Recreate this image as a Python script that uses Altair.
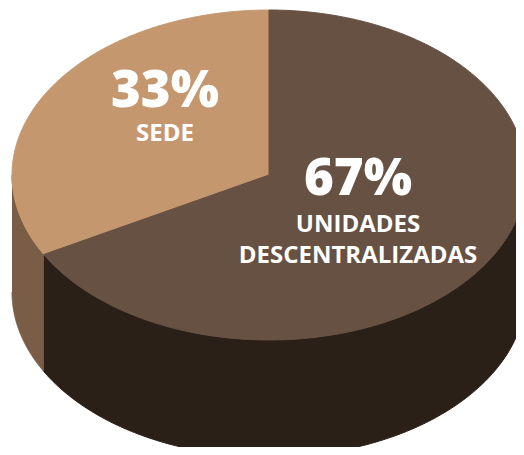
import numpy as np
import pandas as pd
import altair as alt

# ---- data ----
labels = ["SEDE", "UNIDADES DESCENTRALIZADAS"]
values = [33, 67]
pct_text = ["33%", "67%"]
name_lines = [["SEDE"], ["UNIDADES", "DESCENTRALIZADAS"]]
top_colors = ["#c5976f", "#665143"]
side_colors = ["#7a5d46", "#2b2018"]

# ---- layout (pixel geometry of the 3D pie) ----
W, H = 508, 439
CX, CY, RX, RY, DEPTH = 269, 175, 257, 165, 117
label_anchor = [(165, 107), (358, 195)]  # baseline of percentage text
first_gap = [34, 37]
line_gap = 31


def pt(theta_deg, dy=0.0):
    t = np.radians(theta_deg)
    return CX - RX * np.sin(t), CY - RY * np.cos(t) + dy


total = float(sum(values))
side_rows, top_rows = [], []
start = 0.0
for k, (lab, v) in enumerate(zip(labels, values)):
    end = start + 360.0 * v / total
    a0, a1 = max(start, 90.0), min(end, 270.0)
    if a1 > a0:
        ts = np.linspace(a0, a1, 200)
        pts = [pt(t) for t in ts] + [pt(t, DEPTH) for t in ts[::-1]]
        for i, (x, y) in enumerate(pts):
            side_rows.append({"part": lab, "i": i, "x": x, "y": y})
    ts = np.linspace(start, end, 400)
    pts = [(CX, CY)] + [pt(t) for t in ts] + [(CX, CY)]
    for i, (x, y) in enumerate(pts):
        top_rows.append({"part": lab, "i": i, "x": x, "y": y})
    start = end

side_df = pd.DataFrame(side_rows)
top_df = pd.DataFrame(top_rows)

text_rows = []
for k in range(len(labels)):
    ax, ay = label_anchor[k]
    text_rows.append({"t": pct_text[k], "x": ax, "y": ay, "kind": "pct"})
    yy = ay + first_gap[k]
    for j, ln in enumerate(name_lines[k]):
        text_rows.append({"t": ln, "x": ax, "y": yy + j * line_gap, "kind": "name"})
text_df = pd.DataFrame(text_rows)

xs = alt.Scale(domain=[8, 8 + W], nice=False, zero=False)
ys = alt.Scale(domain=[8, 8 + H], nice=False, zero=False, reverse=True)


def poly_layer(df, colors):
    return alt.Chart(df).mark_line(filled=True, strokeWidth=1, clip=True, interpolate="linear").encode(
        x=alt.X("x:Q", scale=xs, axis=None),
        y=alt.Y("y:Q", scale=ys, axis=None),
        order="i:Q",
        color=alt.Color("part:N", scale=alt.Scale(domain=labels, range=colors), legend=None),
        stroke=alt.Stroke("part:N", scale=alt.Scale(domain=labels, range=colors), legend=None),
        detail="part:N",
    )


sides = poly_layer(side_df, side_colors)
tops = poly_layer(top_df, top_colors)

pct = alt.Chart(text_df[text_df.kind == "pct"]).mark_text(
    font="Open Sans", fontWeight=800, fontSize=51, color="white",
    align="center", baseline="alphabetic"
).encode(x=alt.X("x:Q", scale=xs, axis=None), y=alt.Y("y:Q", scale=ys, axis=None), text="t:N")

names = alt.Chart(text_df[text_df.kind == "name"]).mark_text(
    font="Open Sans", fontWeight="bold", fontSize=24, color="white",
    align="center", baseline="alphabetic"
).encode(x=alt.X("x:Q", scale=xs, axis=None), y=alt.Y("y:Q", scale=ys, axis=None), text="t:N")

chart = alt.layer(sides, tops, pct, names).resolve_scale(color="independent", stroke="independent").properties(
    width=W, height=H, autosize=alt.AutoSizeParams(type="none"), padding=0
).configure_view(strokeWidth=0)

chart.save("out.html", embed_options={"renderer": "svg", "actions": False})
